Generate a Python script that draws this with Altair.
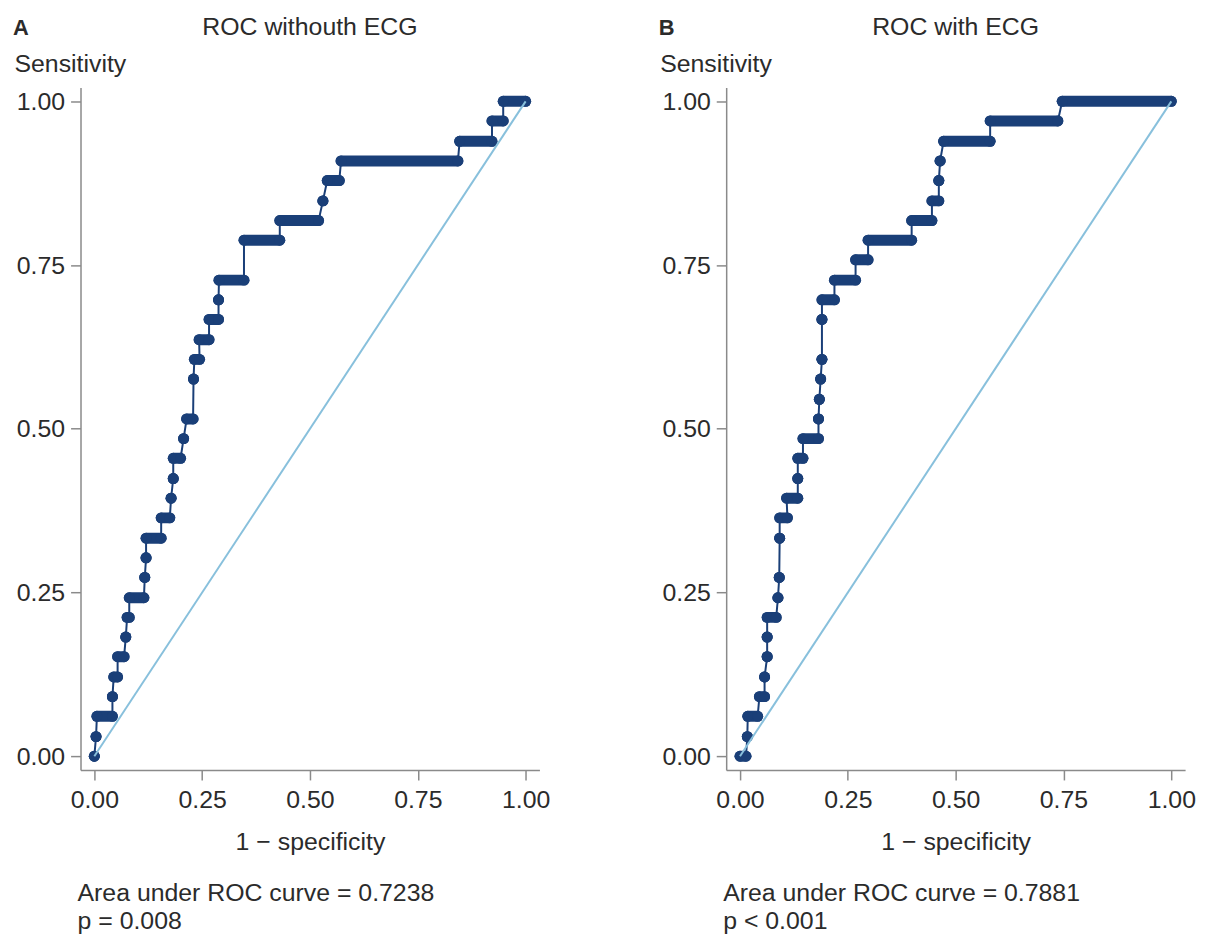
import altair as alt
import pandas as pd

# ---------------- data ----------------
# Panel A: ROC without ECG -- for each sensitivity level, first and last 1-specificity
a_sens = [0.000, 0.030, 0.061, 0.091, 0.121, 0.152, 0.182, 0.212, 0.242, 0.273,
          0.303, 0.333, 0.364, 0.394, 0.424, 0.455, 0.485, 0.515, 0.576,
          0.606, 0.636, 0.667, 0.697, 0.727, 0.788, 0.818, 0.848, 0.879,
          0.909, 0.939, 0.970, 1.000]
a_x0 = [0.000, 0.004, 0.006, 0.042, 0.045, 0.054, 0.073, 0.076, 0.081, 0.117,
        0.120, 0.120, 0.155, 0.178, 0.183, 0.183, 0.207, 0.214, 0.230,
        0.232, 0.243, 0.266, 0.288, 0.289, 0.347, 0.430, 0.530, 0.540,
        0.572, 0.847, 0.922, 0.948]
a_x1 = [0.000, 0.004, 0.042, 0.042, 0.054, 0.069, 0.073, 0.081, 0.115, 0.117,
        0.120, 0.155, 0.175, 0.178, 0.183, 0.200, 0.207, 0.229, 0.230,
        0.244, 0.266, 0.288, 0.288, 0.347, 0.430, 0.520, 0.530, 0.568,
        0.843, 0.922, 0.948, 1.000]

# Panel B: ROC with ECG
b_sens = [0.000, 0.030, 0.061, 0.091, 0.121, 0.152, 0.182, 0.212, 0.242, 0.273,
          0.333, 0.364, 0.394, 0.424, 0.455, 0.485, 0.515, 0.545, 0.576,
          0.606, 0.667, 0.697, 0.727, 0.758, 0.788, 0.818, 0.848, 0.879,
          0.909, 0.939, 0.970, 1.000]
b_x0 = [0.000, 0.017, 0.018, 0.045, 0.057, 0.063, 0.063, 0.063, 0.088, 0.091,
        0.092, 0.092, 0.108, 0.134, 0.134, 0.146, 0.182, 0.184, 0.187,
        0.190, 0.190, 0.190, 0.219, 0.268, 0.297, 0.398, 0.445, 0.461,
        0.464, 0.472, 0.580, 0.747]
b_x1 = [0.014, 0.017, 0.041, 0.057, 0.057, 0.063, 0.063, 0.084, 0.088, 0.091,
        0.092, 0.110, 0.134, 0.134, 0.146, 0.182, 0.182, 0.184, 0.187,
        0.190, 0.190, 0.219, 0.268, 0.297, 0.398, 0.445, 0.461, 0.461,
        0.464, 0.580, 0.737, 1.000]

x_ticks = [0.0, 0.25, 0.5, 0.75, 1.0]
y_ticks = [0.0, 0.25, 0.5, 0.75, 1.0]

# ---------------- style ----------------
NAVY = "#1a3f78"
LIGHT = "#88c0dc"
AXISC = "#8a8a8a"
TEXTC = "#2b2b2b"
FONT = "Liberation Sans"
FS = 25
W, H = 462, 687
XDOM = [-0.032, 1.032]
YDOM = [-0.021, 1.021]


def panel(letter, title, sens, x0, x1, auc_text, p_text):
    steps = pd.DataFrame({"sens": sens, "x0": x0, "x1": x1})
    vx, vy = [], []
    for s, a, b in zip(sens, x0, x1):
        vx += [a, b]
        vy += [s, s]
    verts = pd.DataFrame({"x": vx, "y": vy, "i": list(range(len(vx)))})

    xs = alt.Scale(domain=XDOM, nice=False, zero=False)
    ys = alt.Scale(domain=YDOM, nice=False, zero=False)
    xaxis = alt.Axis(values=x_ticks, format=".2f", title="1 \u2212 specificity",
                     grid=False, tickSize=10, labelPadding=8, titlePadding=17)
    yaxis = alt.Axis(values=y_ticks, format=".2f", title="Sensitivity",
                     grid=False, tickSize=10, labelPadding=6,
                     titleAngle=0, titleAlign="left", titleBaseline="alphabetic",
                     titleX=-67, titleY=-16)

    line = alt.Chart(verts).mark_line(color=NAVY, strokeWidth=2).encode(
        x=alt.X("x:Q", scale=xs, axis=xaxis),
        y=alt.Y("y:Q", scale=ys, axis=yaxis),
        order="i:Q",
    )
    caps = alt.Chart(steps).mark_rule(color=NAVY, strokeWidth=11, strokeCap="round").encode(
        x="x0:Q", x2="x1:Q", y="sens:Q"
    )
    dots = alt.Chart(verts).mark_circle(color=NAVY, size=121, opacity=1).encode(
        x="x:Q", y="y:Q"
    )
    diag = alt.Chart(pd.DataFrame({"x": [0.0], "y": [0.0], "x2": [1.0], "y2": [1.0]})).mark_rule(
        color=LIGHT, strokeWidth=2
    ).encode(x="x:Q", y="y:Q", x2="x2:Q", y2="y2:Q")

    def txt(t, x, y, align="left", weight="normal", size=FS):
        return alt.Chart(pd.DataFrame({"t": [t]})).mark_text(
            align=align, baseline="alphabetic", font=FONT, fontSize=size,
            fontWeight=weight, color=TEXTC
        ).encode(text="t:N", x=alt.value(x), y=alt.value(y))

    t_letter = txt(letter, -68, -53, weight="bold", size=22)
    t_title = txt(title, W / 2, -53, align="center")
    t_auc = txt(auc_text, -3, 819)
    t_p = txt(p_text, -3, 847)

    return alt.layer(line, caps, dots, diag, t_letter, t_title, t_auc, t_p).properties(
        width=W, height=H
    )


pA = panel("A", "ROC withouth ECG", a_sens, a_x0, a_x1,
           "Area under ROC curve = 0.7238", "p = 0.008")
pB = panel("B", "ROC with ECG", b_sens, b_x0, b_x1,
           "Area under ROC curve = 0.7881", "p < 0.001")

chart = alt.hconcat(pA, pB, spacing=109).configure_view(stroke=None).configure_axis(
    domainColor=AXISC, tickColor=AXISC, domainWidth=1.5, tickWidth=1.5,
    labelFont=FONT, titleFont=FONT, labelFontSize=FS, titleFontSize=FS,
    labelColor=TEXTC, titleColor=TEXTC, titleFontWeight="normal"
).properties(padding={"left": 5, "top": 4, "right": 5, "bottom": 0})

chart.save("out.html", embed_options={"renderer": "svg", "actions": False})
